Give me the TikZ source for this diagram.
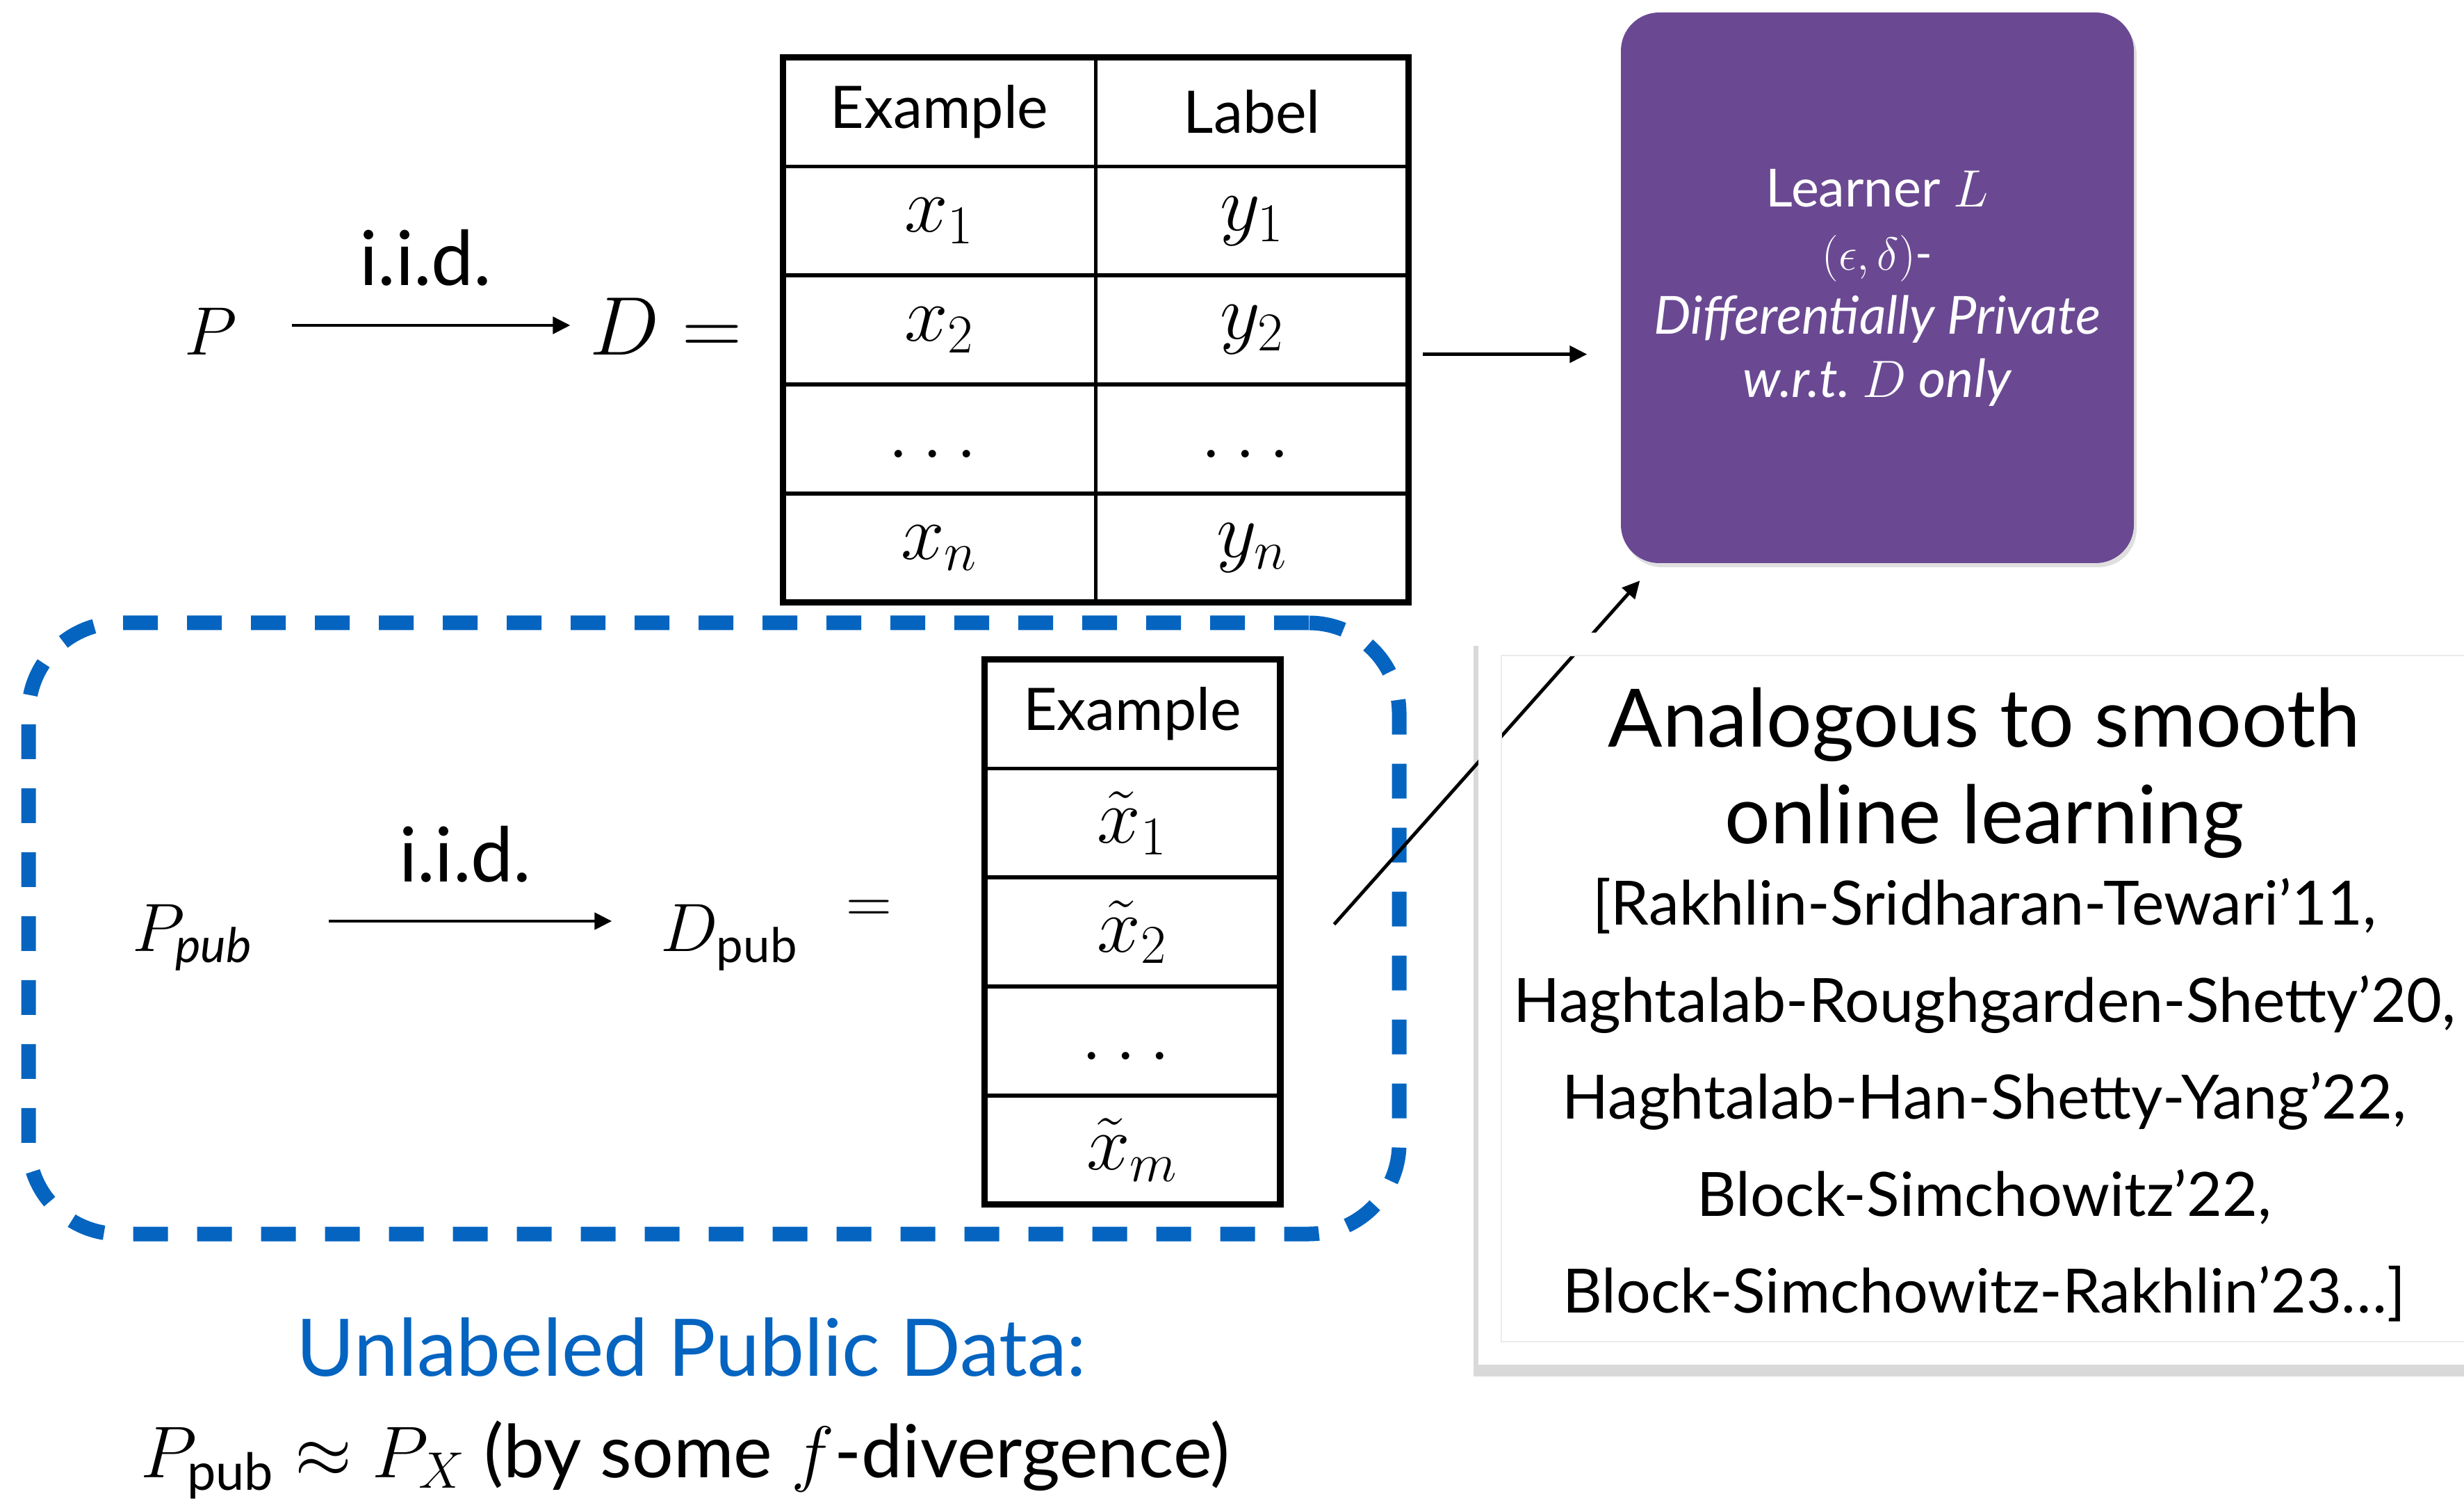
\RequirePackage{fix-cm}
\documentclass[tikz,border=0pt]{standalone}
\usepackage{amsmath}
\usepackage{fontspec}
\setmainfont{Lato}
\usepackage{tikz}
\usetikzlibrary{positioning,arrows.meta,fit,shadows}
\definecolor{pubblue}{RGB}{5,100,192}
\definecolor{learnerpurple}{RGB}{106,73,146}

\begin{document}
\begin{tikzpicture}[
  arr/.style={-{Triangle[length=2.5mm,width=2.4mm]},line width=1.4pt},
  mathlbl/.style={inner sep=0pt,text height=8.6mm,text depth=0pt,font=\fontsize{28}{28}\selectfont},
  iid/.style={inner sep=0pt,font=\fontsize{31}{31}\selectfont},
  cell/.style={draw,line width=0.8pt,inner sep=0pt,minimum height=1.54cm,font=\fontsize{32}{32}\selectfont},
  head/.style={cell,font=\fontsize{24}{24}\selectfont},
  tcell/.style={cell,minimum width=4.47cm},
  pcell/.style={cell,minimum width=4.23cm},
  dots/.style={text height=5.5mm,text depth=0pt},
  frame/.style={draw,line width=2.6pt,inner sep=0pt},
  learner/.style={fill=learnerpurple,rounded corners=5.5mm,minimum width=7.38cm,minimum height=7.92cm,
    text=white,align=center,font=\fontsize{21.5}{26}\selectfont,
    drop shadow={opacity=0.25,shadow xshift=0.04cm,shadow yshift=-0.06cm}},
  pubframe/.style={draw=pubblue,line width=2.1mm,dash pattern=on 5mm off 4.2mm,rounded corners=1.3cm},
  citebox/.style={fill=white,minimum width=14.54cm,minimum height=10.51cm,
    drop shadow={opacity=0.3,shadow xshift=-0.08cm,shadow yshift=-0.18cm}},
]
  \path[use as bounding box,clip] (0,0) rectangle (35.45,21.61);

  % private labeled data
  \node[mathlbl] (P) at (3.03,16.93) {$P$};
  \node[mathlbl,font=\fontsize{34}{34}\selectfont,right=5.06cm of P] (Deq) {$D=$};
  \draw[arr,shorten <=7.9mm,shorten >=2.7mm] (P) -- node[iid,above=5.4mm,xshift=1.8mm]{i.i.d.} (Deq);

  \node[head,minimum width=4.47cm] (ex0) at (13.515,20.0) {Example};
  \node[head,minimum width=4.47cm,right=0pt of ex0] (lb0) {Label};
  \node[tcell,below=0pt of ex0] (ex1) {$x_1$};
  \node[tcell,below=0pt of lb0] (lb1) {$y_1$};
  \node[tcell,below=0pt of ex1] (ex2) {$x_2$};
  \node[tcell,below=0pt of lb1] (lb2) {$y_2$};
  \node[tcell,dots,below=0pt of ex2] (ex3) {$\dots$};
  \node[tcell,dots,below=0pt of lb2] (lb3) {$\dots$};
  \node[tcell,below=0pt of ex3] (ex4) {$x_n$};
  \node[tcell,below=0pt of lb3] (lb4) {$y_n$};
  \node[frame,fit=(ex0)(lb4)] (datatab) {};

  \node[learner] (learner) at (27.01,17.47) {Learner $L$\\{\fontsize{19}{26}\selectfont$(\epsilon,\delta)$-}\\\textit{Differentially Private}\\\textit{w.r.t.\ $D$ only}};
  \draw[arr] ([shift={(0.16,-0.35)}]datatab.east) coordinate (tabout) -- ([xshift=-4.8mm]tabout -| learner.west);

  % public unlabeled data
  \node[pubframe,minimum width=19.72cm,minimum height=8.79cm] (pubarea) at (10.27,8.255) {};
  \node[mathlbl] (Ppub) at (2.77,8.36) {$P_{\textit{pub}}$};
  \node[mathlbl,right=5.86cm of Ppub] (Dpub) {$D_{\text{pub}}$};
  \node[font=\fontsize{26}{26}\selectfont] (eqpub) at (12.50,8.50) {$=$};
  \draw[arr,shorten <=10.9mm,shorten >=7mm] (Ppub) -- node[iid,above=5.3mm,xshift=1.2mm]{i.i.d.} (Dpub);

  \node[head,minimum width=4.23cm] (pex0) at (16.29,11.34) {Example};
  \node[pcell,below=0pt of pex0] (pex1) {$\tilde{x}_1$};
  \node[pcell,below=0pt of pex1] (pex2) {$\tilde{x}_2$};
  \node[pcell,dots,below=0pt of pex2] (pex3) {$\dots$};
  \node[pcell,below=0pt of pex3] (pex4) {$\tilde{x}_m$};
  \node[frame,fit=(pex0)(pex4)] (pubtab) {};

  \node[font=\fontsize{32.5}{32.5}\selectfont,text=pubblue] (unlab) at (9.95,2.23) {Unlabeled Public Data:};
  \node[font=\fontsize{30}{30}\selectfont,anchor=base] (approx) at (9.86,0.36) {$P_{\text{pub}}\approx P_X$ (by some $f$-divergence)};

  % smooth online learning box
  \node[citebox] (refbox) at (28.55,7.245) {};
  \draw[arr] ([shift={(0.73,0.11)}]pubtab.east) -- ([shift={(0.28,-0.245)}]learner.south west);
  \draw[white,line width=3.3mm] ([shift={(1.65mm,1.65mm)}]refbox.south west) rectangle ([shift={(-1.65mm,-1.65mm)}]refbox.north east);
  \draw[black!8,line width=0.5pt] ([shift={(3.3mm,3.3mm)}]refbox.south west) rectangle ([shift={(-3.3mm,-3.3mm)}]refbox.north east);
  \node[font=\fontsize{33}{39.7}\selectfont,align=center,anchor=north,inner sep=0pt] (smooth) at (28.55,11.73) {Analogous to smooth\\online learning};
  \node[font=\fontsize{25}{39.7}\selectfont,align=center,inner sep=0pt,below=0.27cm of smooth] (refs) {[Rakhlin-Sridharan-Tewari’11,\\Haghtalab-Roughgarden-Shetty’20,\\Haghtalab-Han-Shetty-Yang’22,\\Block-Simchowitz’22,\\Block-Simchowitz-Rakhlin’23…]};
\end{tikzpicture}
\end{document}
